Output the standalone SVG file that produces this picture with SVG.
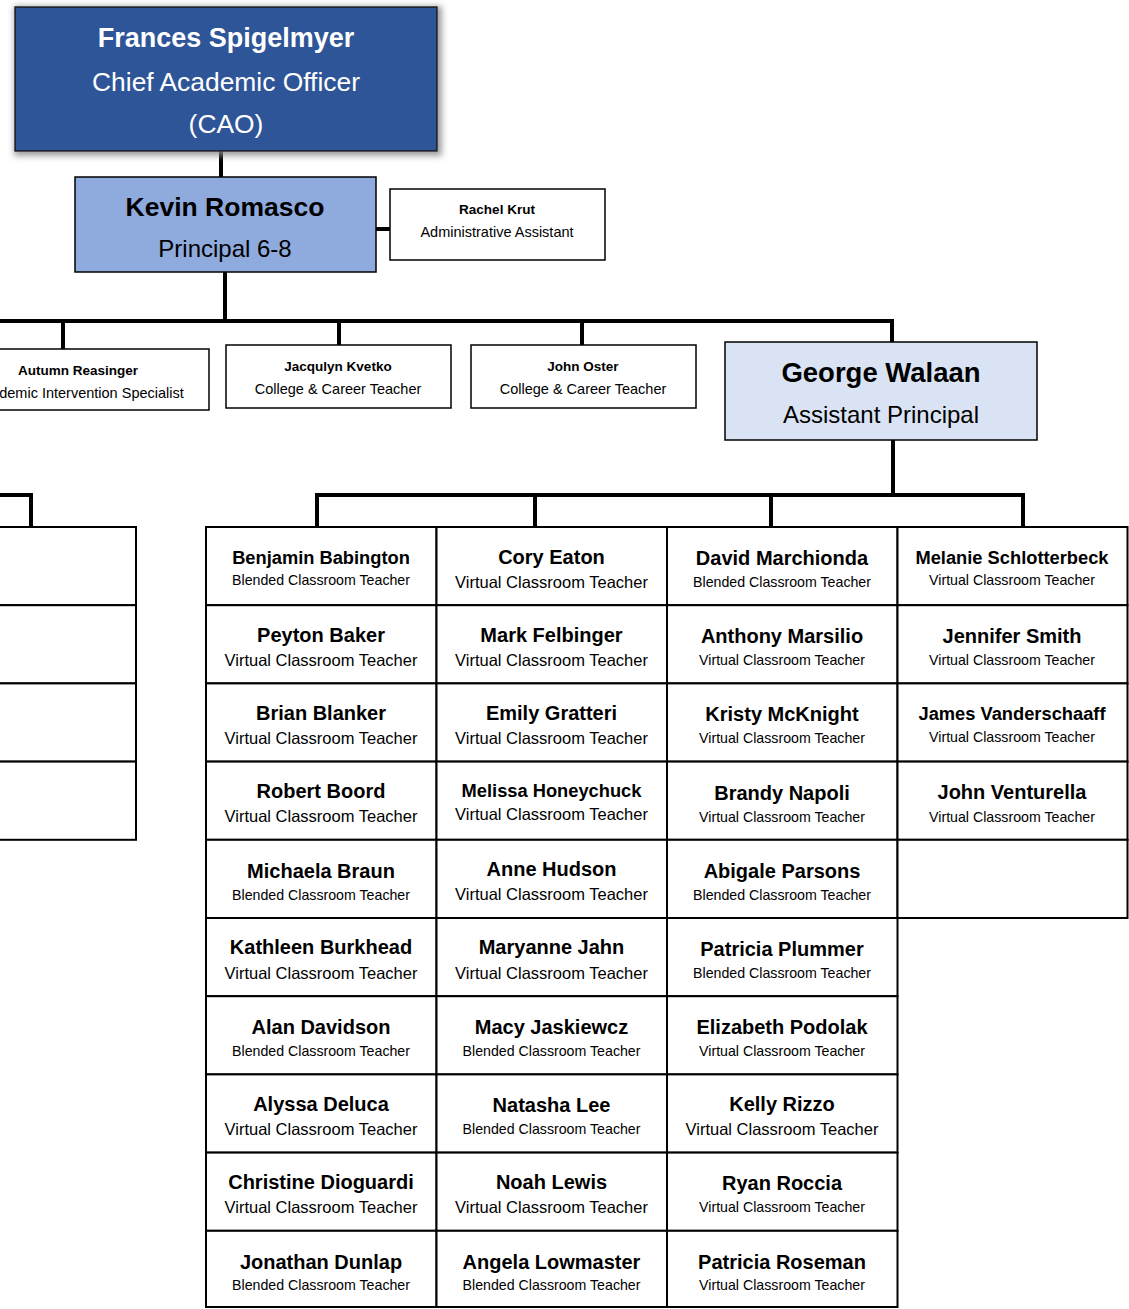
<svg xmlns="http://www.w3.org/2000/svg" width="1129" height="1309" viewBox="0 0 1129 1309">
  <defs>
    <filter id="soft-shadow" x="-10%" y="-20%" width="120%" height="140%">
      <feMorphology in="SourceAlpha" operator="dilate" radius="2" result="grown"/>
      <feGaussianBlur in="grown" stdDeviation="3" result="blur"/>
      <feOffset in="blur" dx="2" dy="2" result="shifted"/>
      <feFlood flood-color="#8a8a8a" flood-opacity="0.85"/>
      <feComposite in2="shifted" operator="in" result="shadow"/>
      <feMerge>
        <feMergeNode in="shadow"/>
        <feMergeNode in="SourceGraphic"/>
      </feMerge>
    </filter>
  </defs>
  <style>
    text { font-family: "Liberation Sans", Arial, sans-serif; text-anchor: middle; fill: #000; }
    .b { font-weight: bold; }
    .w { fill: #fff; }
    .box { fill: #fff; stroke: #000; stroke-width: 1.5; }
    .cell { fill: #fff; stroke: #000; stroke-width: 2; }
    .conn { fill: none; stroke: #000; stroke-width: 4; }
    .n20 { font-size: 20px; font-weight: bold; }
    .n18 { font-size: 18.3px; font-weight: bold; }
    .r16 { font-size: 16.5px; }
    .r14 { font-size: 14.2px; }
    .s14b { font-size: 13.5px; font-weight: bold; }
    .s14 { font-size: 14.5px; }
  </style>

  <rect width="1129" height="1309" fill="#fff"/>

  <!-- reporting lines -->
  <g id="connectors">
    <path class="conn" d="M221 151 V177"/>
    <path class="conn" d="M376 229 H390"/>
    <path class="conn" d="M225 272 V321"/>
    <path class="conn" d="M0 321 H893"/>
    <path class="conn" d="M63 321 V349"/>
    <path class="conn" d="M339 321 V345"/>
    <path class="conn" d="M582 321 V345"/>
    <path class="conn" d="M892 319 V342"/>
    <path class="conn" d="M893 440 V495"/>
    <path class="conn" d="M317 495 H1023"/>
    <path class="conn" d="M317 493 V527"/>
    <path class="conn" d="M535 495 V527"/>
    <path class="conn" d="M771 495 V527"/>
    <path class="conn" d="M1023 493 V527"/>
    <path class="conn" d="M0 495 H31 V527"/>
  </g>

  <!-- leadership -->
  <g id="cao">
    <rect x="15" y="7" width="422" height="144" fill="#2F5597" stroke="#1a1a1a" stroke-width="1.5" filter="url(#soft-shadow)"/>
    <text class="b w" x="226" y="47" font-size="27">Frances Spigelmyer</text>
    <text class="w" x="226" y="91" font-size="26.4">Chief Academic Officer</text>
    <text class="w" x="226" y="133" font-size="26.4">(CAO)</text>
  </g>

  <g id="principal">
    <rect x="75" y="177" width="301" height="95" fill="#8FAADC" stroke="#000" stroke-width="1.5"/>
    <text class="b" x="225" y="216" font-size="26.5">Kevin Romasco</text>
    <text x="225" y="257" font-size="24">Principal 6-8</text>
  </g>

  <g id="admin-assistant">
    <rect class="box" x="390" y="189" width="215" height="71"/>
    <text class="s14b" x="497" y="214">Rachel Krut</text>
    <text class="s14" x="497" y="237">Administrative Assistant</text>
  </g>

  <!-- this box runs past the left edge of the sheet -->
  <g id="intervention-specialist">
    <rect class="box" x="-60" y="349" width="269" height="61"/>
    <text class="s14b" x="78" y="375">Autumn Reasinger</text>
    <text class="s14" x="79" y="398">Academic Intervention Specialist</text>
  </g>

  <g id="career-teacher-kvetko">
    <rect class="box" x="226" y="345" width="225" height="63"/>
    <text class="s14b" x="338" y="371">Jacqulyn Kvetko</text>
    <text class="s14" x="338" y="394">College &amp; Career Teacher</text>
  </g>

  <g id="career-teacher-oster">
    <rect class="box" x="471" y="345" width="225" height="63"/>
    <text class="s14b" x="583" y="371">John Oster</text>
    <text class="s14" x="583" y="394">College &amp; Career Teacher</text>
  </g>

  <g id="assistant-principal">
    <rect x="725" y="342" width="312" height="98" fill="#DAE3F3" stroke="#000" stroke-width="1.5"/>
    <text class="b" x="881" y="382" font-size="27.5">George Walaan</text>
    <text x="881" y="423" font-size="24">Assistant Principal</text>
  </g>

  <!-- empty staff column at the left edge -->
  <g id="left-column">
    <rect class="cell" x="-10" y="527" width="146" height="78.2"/>
    <rect class="cell" x="-10" y="605.2" width="146" height="78.2"/>
    <rect class="cell" x="-10" y="683.4" width="146" height="78.2"/>
    <rect class="cell" x="-10" y="761.6" width="146" height="78.2"/>
  </g>

  <!-- teacher grid, column 1 -->
  <g id="t-babington"><rect class="cell" x="206" y="527" width="230.5" height="78.2"/><text class="n18" x="321" y="564">Benjamin Babington</text><text class="r14" x="321" y="585">Blended Classroom Teacher</text></g>
  <g id="t-baker"><rect class="cell" x="206" y="605.2" width="230.5" height="78.2"/><text class="n20" x="321" y="642">Peyton Baker</text><text class="r16" x="321" y="666">Virtual Classroom Teacher</text></g>
  <g id="t-blanker"><rect class="cell" x="206" y="683.4" width="230.5" height="78.2"/><text class="n20" x="321" y="720">Brian Blanker</text><text class="r16" x="321" y="744">Virtual Classroom Teacher</text></g>
  <g id="t-boord"><rect class="cell" x="206" y="761.6" width="230.5" height="78.2"/><text class="n20" x="321" y="798">Robert Boord</text><text class="r16" x="321" y="822">Virtual Classroom Teacher</text></g>
  <g id="t-braun"><rect class="cell" x="206" y="839.8" width="230.5" height="78.2"/><text class="n20" x="321" y="878">Michaela Braun</text><text class="r14" x="321" y="900">Blended Classroom Teacher</text></g>
  <g id="t-burkhead"><rect class="cell" x="206" y="918" width="230.5" height="78.2"/><text class="n20" x="321" y="954">Kathleen Burkhead</text><text class="r16" x="321" y="979">Virtual Classroom Teacher</text></g>
  <g id="t-davidson"><rect class="cell" x="206" y="996.2" width="230.5" height="78.2"/><text class="n20" x="321" y="1034">Alan Davidson</text><text class="r14" x="321" y="1056">Blended Classroom Teacher</text></g>
  <g id="t-deluca"><rect class="cell" x="206" y="1074.4" width="230.5" height="78.2"/><text class="n20" x="321" y="1111">Alyssa Deluca</text><text class="r16" x="321" y="1135">Virtual Classroom Teacher</text></g>
  <g id="t-dioguardi"><rect class="cell" x="206" y="1152.6" width="230.5" height="78.2"/><text class="n20" x="321" y="1189">Christine Dioguardi</text><text class="r16" x="321" y="1213">Virtual Classroom Teacher</text></g>
  <g id="t-dunlap"><rect class="cell" x="206" y="1230.8" width="230.5" height="76.2"/><text class="n20" x="321" y="1269">Jonathan Dunlap</text><text class="r14" x="321" y="1290">Blended Classroom Teacher</text></g>

  <!-- column 2 -->
  <g id="t-eaton"><rect class="cell" x="436.5" y="527" width="230.5" height="78.2"/><text class="n20" x="551.5" y="564">Cory Eaton</text><text class="r16" x="551.5" y="588">Virtual Classroom Teacher</text></g>
  <g id="t-felbinger"><rect class="cell" x="436.5" y="605.2" width="230.5" height="78.2"/><text class="n20" x="551.5" y="642">Mark Felbinger</text><text class="r16" x="551.5" y="666">Virtual Classroom Teacher</text></g>
  <g id="t-gratteri"><rect class="cell" x="436.5" y="683.4" width="230.5" height="78.2"/><text class="n20" x="551.5" y="720">Emily Gratteri</text><text class="r16" x="551.5" y="744">Virtual Classroom Teacher</text></g>
  <g id="t-honeychuck"><rect class="cell" x="436.5" y="761.6" width="230.5" height="78.2"/><text class="n18" x="551.5" y="797">Melissa Honeychuck</text><text class="r16" x="551.5" y="820">Virtual Classroom Teacher</text></g>
  <g id="t-hudson"><rect class="cell" x="436.5" y="839.8" width="230.5" height="78.2"/><text class="n20" x="551.5" y="876">Anne Hudson</text><text class="r16" x="551.5" y="900">Virtual Classroom Teacher</text></g>
  <g id="t-jahn"><rect class="cell" x="436.5" y="918" width="230.5" height="78.2"/><text class="n20" x="551.5" y="954">Maryanne Jahn</text><text class="r16" x="551.5" y="979">Virtual Classroom Teacher</text></g>
  <g id="t-jaskiewcz"><rect class="cell" x="436.5" y="996.2" width="230.5" height="78.2"/><text class="n20" x="551.5" y="1034">Macy Jaskiewcz</text><text class="r14" x="551.5" y="1056">Blended Classroom Teacher</text></g>
  <g id="t-lee"><rect class="cell" x="436.5" y="1074.4" width="230.5" height="78.2"/><text class="n20" x="551.5" y="1112">Natasha Lee</text><text class="r14" x="551.5" y="1134">Blended Classroom Teacher</text></g>
  <g id="t-lewis"><rect class="cell" x="436.5" y="1152.6" width="230.5" height="78.2"/><text class="n20" x="551.5" y="1189">Noah Lewis</text><text class="r16" x="551.5" y="1213">Virtual Classroom Teacher</text></g>
  <g id="t-lowmaster"><rect class="cell" x="436.5" y="1230.8" width="230.5" height="76.2"/><text class="n20" x="551.5" y="1269">Angela Lowmaster</text><text class="r14" x="551.5" y="1290">Blended Classroom Teacher</text></g>

  <!-- column 3 -->
  <g id="t-marchionda"><rect class="cell" x="667" y="527" width="230.5" height="78.2"/><text class="n20" x="782" y="565">David Marchionda</text><text class="r14" x="782" y="587">Blended Classroom Teacher</text></g>
  <g id="t-marsilio"><rect class="cell" x="667" y="605.2" width="230.5" height="78.2"/><text class="n20" x="782" y="643">Anthony Marsilio</text><text class="r14" x="782" y="665">Virtual Classroom Teacher</text></g>
  <g id="t-mcknight"><rect class="cell" x="667" y="683.4" width="230.5" height="78.2"/><text class="n20" x="782" y="721">Kristy McKnight</text><text class="r14" x="782" y="743">Virtual Classroom Teacher</text></g>
  <g id="t-napoli"><rect class="cell" x="667" y="761.6" width="230.5" height="78.2"/><text class="n20" x="782" y="800">Brandy Napoli</text><text class="r14" x="782" y="822">Virtual Classroom Teacher</text></g>
  <g id="t-parsons"><rect class="cell" x="667" y="839.8" width="230.5" height="78.2"/><text class="n20" x="782" y="878">Abigale Parsons</text><text class="r14" x="782" y="900">Blended Classroom Teacher</text></g>
  <g id="t-plummer"><rect class="cell" x="667" y="918" width="230.5" height="78.2"/><text class="n20" x="782" y="956">Patricia Plummer</text><text class="r14" x="782" y="978">Blended Classroom Teacher</text></g>
  <g id="t-podolak"><rect class="cell" x="667" y="996.2" width="230.5" height="78.2"/><text class="n20" x="782" y="1034">Elizabeth Podolak</text><text class="r14" x="782" y="1056">Virtual Classroom Teacher</text></g>
  <g id="t-rizzo"><rect class="cell" x="667" y="1074.4" width="230.5" height="78.2"/><text class="n20" x="782" y="1111">Kelly Rizzo</text><text class="r16" x="782" y="1135">Virtual Classroom Teacher</text></g>
  <g id="t-roccia"><rect class="cell" x="667" y="1152.6" width="230.5" height="78.2"/><text class="n20" x="782" y="1190">Ryan Roccia</text><text class="r14" x="782" y="1212">Virtual Classroom Teacher</text></g>
  <g id="t-roseman"><rect class="cell" x="667" y="1230.8" width="230.5" height="76.2"/><text class="n20" x="782" y="1269">Patricia Roseman</text><text class="r14" x="782" y="1290">Virtual Classroom Teacher</text></g>

  <!-- column 4 -->
  <g id="t-schlotterbeck"><rect class="cell" x="897.5" y="527" width="230" height="78.2"/><text class="n18" x="1012" y="564">Melanie Schlotterbeck</text><text class="r14" x="1012" y="585">Virtual Classroom Teacher</text></g>
  <g id="t-smith"><rect class="cell" x="897.5" y="605.2" width="230" height="78.2"/><text class="n20" x="1012" y="643">Jennifer Smith</text><text class="r14" x="1012" y="665">Virtual Classroom Teacher</text></g>
  <g id="t-vanderschaaff"><rect class="cell" x="897.5" y="683.4" width="230" height="78.2"/><text class="n18" x="1012" y="720">James Vanderschaaff</text><text class="r14" x="1012" y="742">Virtual Classroom Teacher</text></g>
  <g id="t-venturella"><rect class="cell" x="897.5" y="761.6" width="230" height="78.2"/><text class="n20" x="1012" y="799">John Venturella</text><text class="r14" x="1012" y="822">Virtual Classroom Teacher</text></g>
  <g id="t-open"><rect class="cell" x="897.5" y="839.8" width="230" height="78.2"/></g>
</svg>
